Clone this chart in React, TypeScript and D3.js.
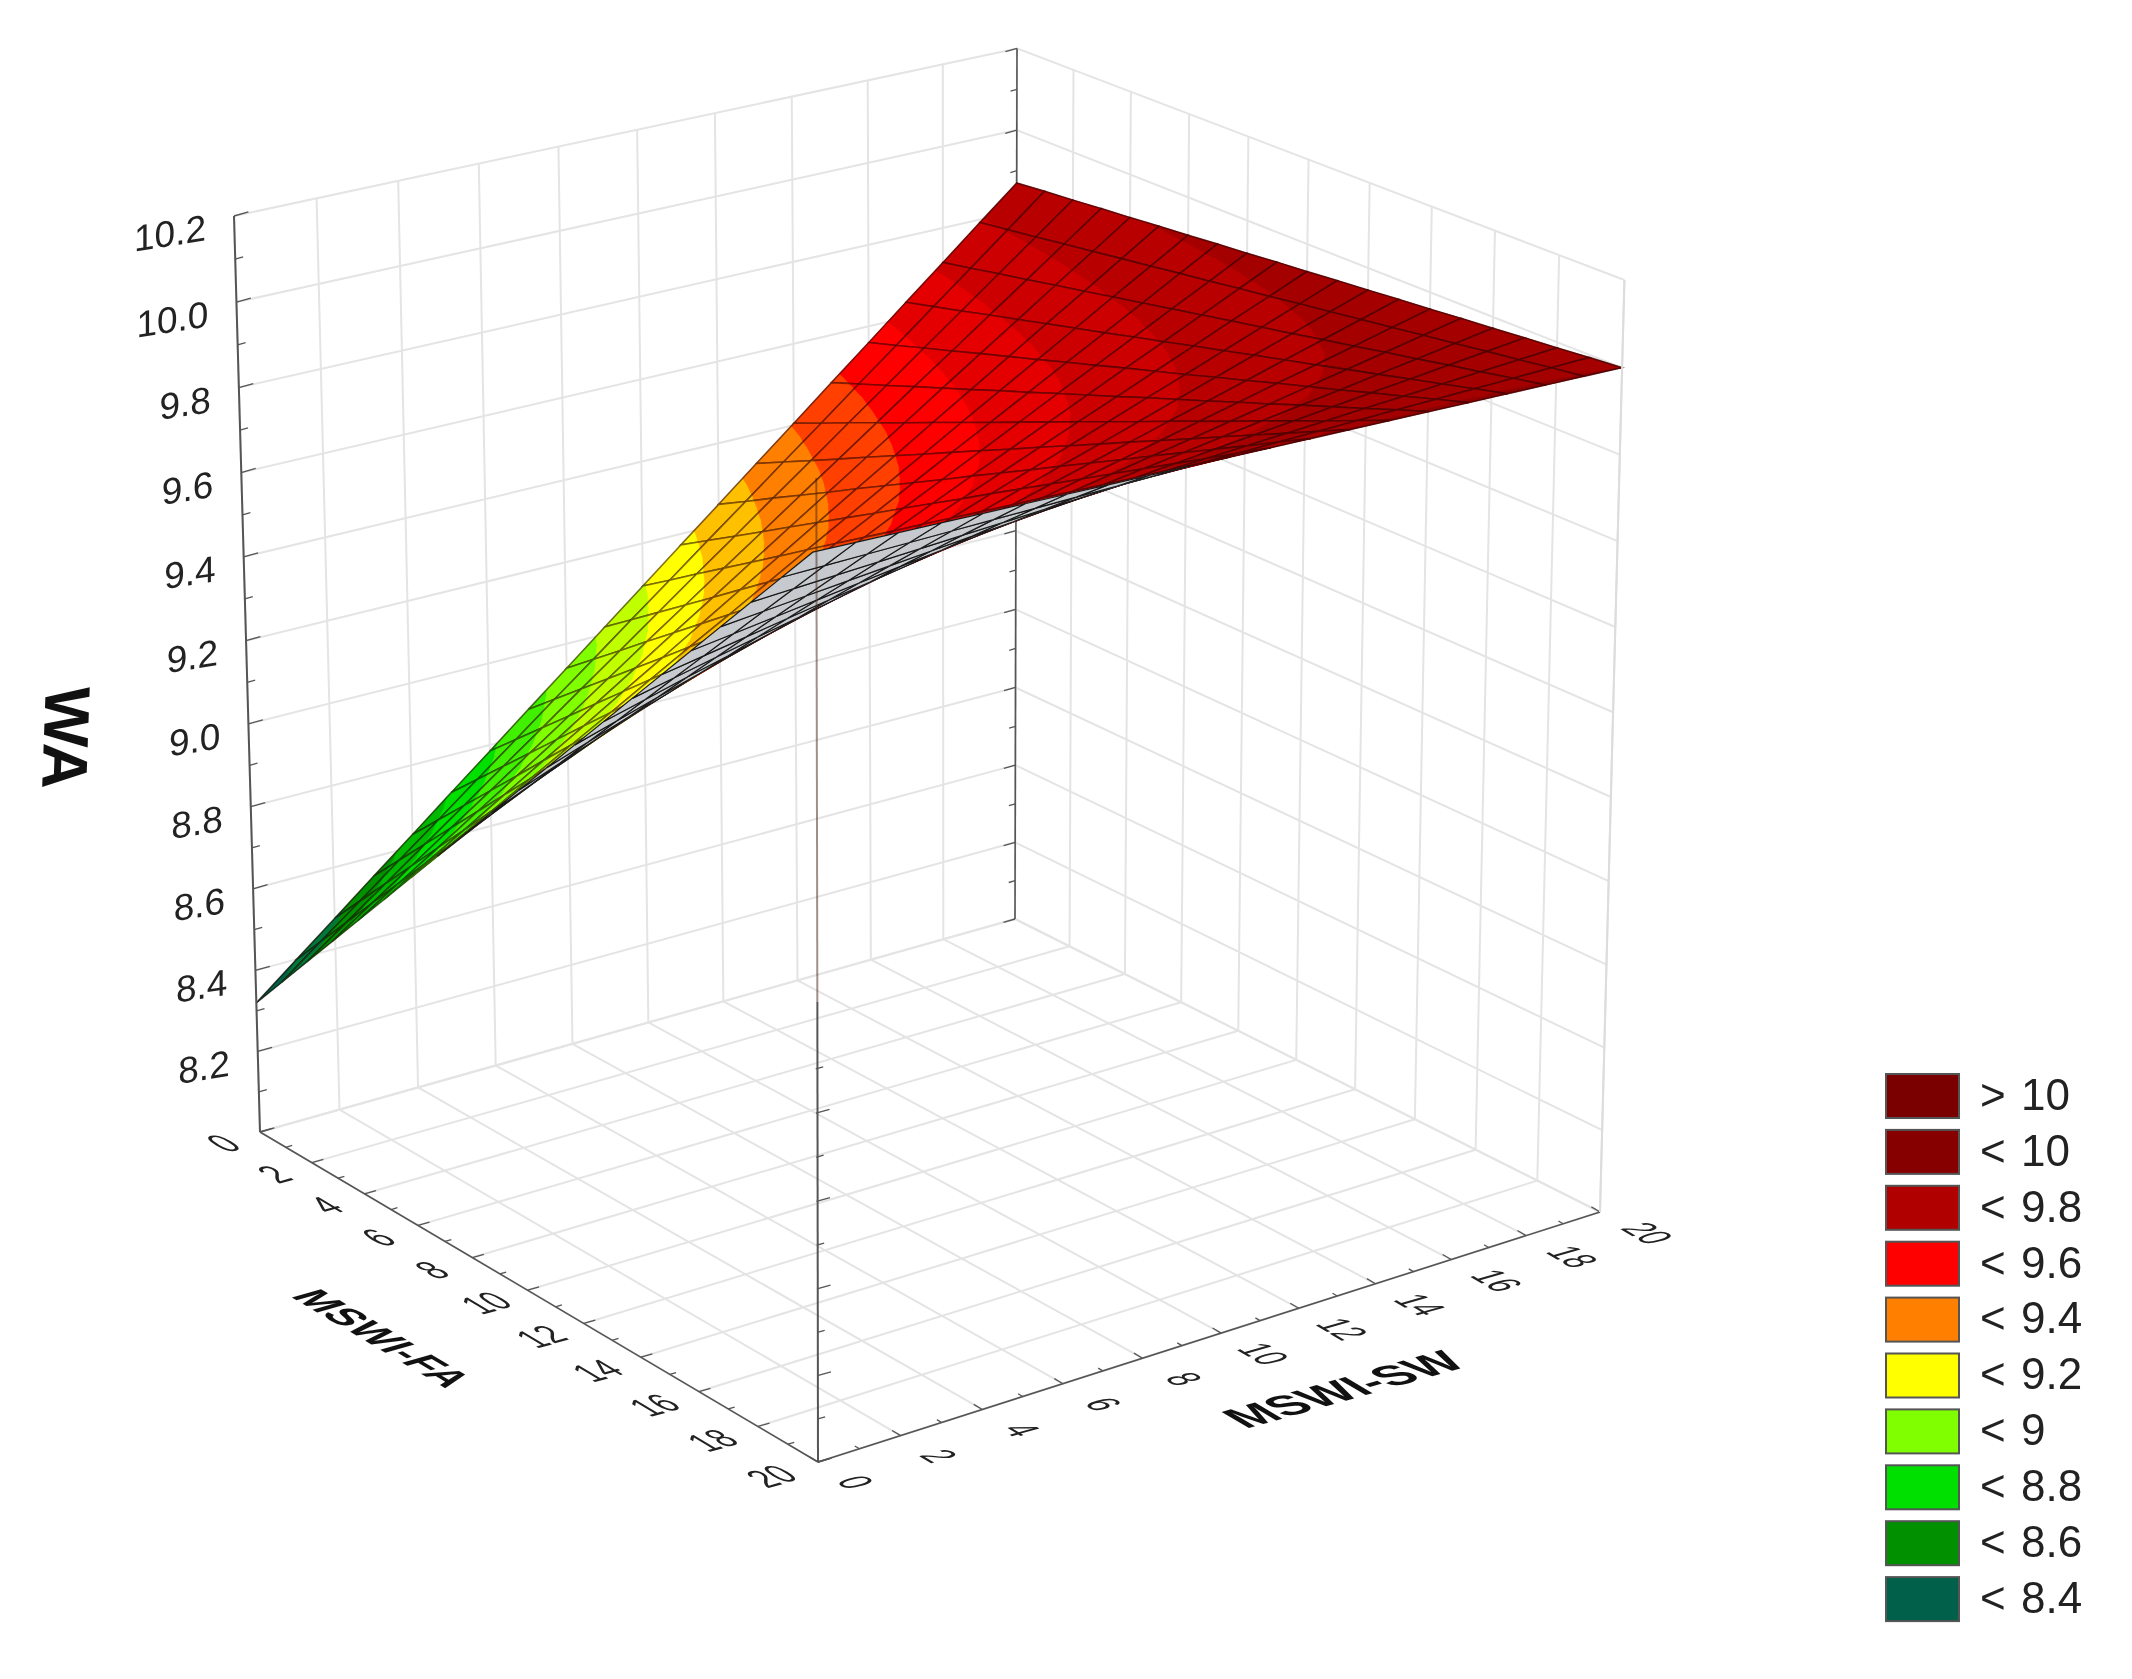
import React from "react";
import * as d3 from "d3";

const faTicks = [0,2,4,6,8,10,12,14,16,18,20];
const swTicks = [0,2,4,6,8,10,12,14,16,18,20];
const waTicks = [8.2,8.4,8.6,8.8,9.0,9.2,9.4,9.6,9.8,10.0,10.2];
const legendLabels = ["> 10","< 10","< 9.8","< 9.6","< 9.4","< 9.2","< 9","< 8.8","< 8.6","< 8.4"];
const legendColors = ["#7a0000","#870000","#b00000","#ff0000","#ff8000","#ffff00","#80ff00","#00e000","#009000","#00604a"];
const bandLevels = [8.4,8.5,8.6,8.7,8.8,8.9,9.0,9.1,9.2,9.3,9.4,9.5,9.6,9.7,9.8,9.9,10];
const bandColors = ["#00604a","#007838","#009000","#00b800","#00e000","#40f000","#80ff00","#c0ff00","#ffff00","#ffc000","#ff8000","#ff4000","#ff0000","#e40000","#cc0000","#b80000","#a40000","#8f0000"];

// WA read from the surface: one row per MSWI-FA value (0..20), one column per MSWI-SW value (0..20)
const waFa0 =  [8.320,8.398,8.475,8.553,8.630,8.708,8.785,8.863,8.940,9.018,9.095,9.173,9.250,9.328,9.405,9.483,9.560,9.638,9.715,9.793,9.870];
const waFa1 =  [8.406,8.480,8.553,8.627,8.700,8.774,8.847,8.921,8.994,9.068,9.141,9.215,9.288,9.362,9.435,9.509,9.582,9.656,9.729,9.803,9.877];
const waFa2 =  [8.492,8.562,8.631,8.701,8.770,8.840,8.909,8.979,9.048,9.118,9.188,9.257,9.327,9.396,9.466,9.535,9.605,9.674,9.744,9.813,9.883];
const waFa3 =  [8.578,8.644,8.709,8.775,8.840,8.906,8.971,9.037,9.103,9.168,9.234,9.299,9.365,9.430,9.496,9.562,9.627,9.693,9.758,9.824,9.890];
const waFa4 =  [8.664,8.726,8.787,8.849,8.910,8.972,9.034,9.095,9.157,9.218,9.280,9.342,9.403,9.465,9.526,9.588,9.650,9.711,9.773,9.834,9.896];
const waFa5 =  [8.750,8.808,8.865,8.923,8.981,9.038,9.096,9.153,9.211,9.269,9.326,9.384,9.442,9.499,9.557,9.614,9.672,9.730,9.787,9.845,9.903];
const waFa6 =  [8.836,8.890,8.943,8.997,9.051,9.104,9.158,9.212,9.265,9.319,9.373,9.426,9.480,9.533,9.587,9.641,9.694,9.748,9.802,9.855,9.909];
const waFa7 =  [8.922,8.972,9.021,9.071,9.121,9.170,9.220,9.270,9.319,9.369,9.419,9.468,9.518,9.568,9.617,9.667,9.717,9.766,9.816,9.866,9.916];
const waFa8 =  [9.008,9.054,9.099,9.145,9.191,9.237,9.282,9.328,9.374,9.419,9.465,9.511,9.556,9.602,9.648,9.694,9.739,9.785,9.831,9.876,9.922];
const waFa9 =  [9.094,9.136,9.177,9.219,9.261,9.303,9.344,9.386,9.428,9.470,9.511,9.553,9.595,9.636,9.678,9.720,9.762,9.803,9.845,9.887,9.929];
const waFa10 = [9.180,9.218,9.256,9.293,9.331,9.369,9.407,9.444,9.482,9.520,9.558,9.595,9.633,9.671,9.709,9.746,9.784,9.822,9.860,9.897,9.935];
const waFa11 = [9.266,9.300,9.334,9.367,9.401,9.435,9.469,9.502,9.536,9.570,9.604,9.638,9.671,9.705,9.739,9.773,9.806,9.840,9.874,9.908,9.942];
const waFa12 = [9.352,9.382,9.412,9.441,9.471,9.501,9.531,9.561,9.590,9.620,9.650,9.680,9.710,9.739,9.769,9.799,9.829,9.859,9.888,9.918,9.948];
const waFa13 = [9.438,9.464,9.490,9.515,9.541,9.567,9.593,9.619,9.645,9.670,9.696,9.722,9.748,9.774,9.800,9.825,9.851,9.877,9.903,9.929,9.955];
const waFa14 = [9.524,9.546,9.568,9.590,9.611,9.633,9.655,9.677,9.699,9.721,9.743,9.764,9.786,9.808,9.830,9.852,9.874,9.895,9.917,9.939,9.961];
const waFa15 = [9.610,9.628,9.646,9.664,9.682,9.699,9.717,9.735,9.753,9.771,9.789,9.807,9.825,9.842,9.860,9.878,9.896,9.914,9.932,9.950,9.968];
const waFa16 = [9.696,9.710,9.724,9.738,9.752,9.766,9.779,9.793,9.807,9.821,9.835,9.849,9.863,9.877,9.891,9.905,9.918,9.932,9.946,9.960,9.974];
const waFa17 = [9.782,9.792,9.802,9.812,9.822,9.832,9.842,9.851,9.861,9.871,9.881,9.891,9.901,9.911,9.921,9.931,9.941,9.951,9.961,9.971,9.981];
const waFa18 = [9.868,9.874,9.880,9.886,9.892,9.898,9.904,9.910,9.916,9.922,9.928,9.933,9.939,9.945,9.951,9.957,9.963,9.969,9.975,9.981,9.987];
const waFa19 = [9.954,9.956,9.958,9.960,9.962,9.964,9.966,9.968,9.970,9.972,9.974,9.976,9.978,9.980,9.982,9.984,9.986,9.988,9.990,9.992,9.994];
const waFa20 = [10.040,10.038,10.036,10.034,10.032,10.030,10.028,10.026,10.024,10.022,10.020,10.018,10.016,10.014,10.012,10.010,10.008,10.006,10.004,10.002,10.000];
const waRows = [waFa0,waFa1,waFa2,waFa3,waFa4,waFa5,waFa6,waFa7,waFa8,waFa9,waFa10,waFa11,waFa12,waFa13,waFa14,waFa15,waFa16,waFa17,waFa18,waFa19,waFa20];

const L=[260,1132],F=[818,1462],R=[1600,1212],B=[1015,919],LT=[234,216],BT=[1017,48];
const dx1=F[0]-R[0],dy1=F[1]-R[1],dx2=B[0]-R[0],dy2=B[1]-R[1];
const sx=L[0]-F[0]+R[0]-B[0],sy=L[1]-F[1]+R[1]-B[1];
const det=dx1*dy2-dx2*dy1;
const g=(sx*dy2-dx2*sy)/det,h=(dx1*sy-sx*dy1)/det;
const a=F[0]-L[0]+g*F[0],b=B[0]-L[0]+h*B[0],c=L[0];
const d=F[1]-L[1]+g*F[1],e=B[1]-L[1]+h*B[1],f=L[1];
const r=(b-BT[0]*(1+h)+LT[0])/(BT[0]-LT[0]);
const p=LT[0]*(1+r)-c,q=LT[1]*(1+r)-f;

const uS=d3.scaleLinear().domain([0,20]).range([0,1]);
const vS=d3.scaleLinear().domain([0,20]).range([0,1]);
const wS=d3.scaleLinear().domain([8,10.2]).range([0,1]);
function proj(fa:number,sw:number,wa:number){
  const u=uS(fa),v=vS(sw),w=wS(wa);
  const D=1+g*u+h*v+r*w;
  return [(a*u+b*v+c+p*w)/D,(d*u+e*v+f+q*w)/D,D];
}
const line=d3.line();
const seg=(A:number[],B2:number[])=>line([[A[0],A[1]],[B2[0],B2[1]]]) as string;
const bandColor=d3.scaleThreshold<number,string>().domain(bandLevels).range(bandColors);

type V=[number,number,number];
function clip(poly:V[],lo:number,hi:number){
  const cut=(pts:V[],inside:(z:number)=>boolean,lim:number)=>{
    const out:V[]=[];
    pts.forEach((P,i)=>{
      const Q=pts[(i+1)%pts.length];
      const pi=inside(P[2]),qi=inside(Q[2]);
      if(pi)out.push(P);
      if(pi!==qi){const t=(lim-P[2])/(Q[2]-P[2]);out.push([P[0]+t*(Q[0]-P[0]),P[1]+t*(Q[1]-P[1]),lim]);}
    });
    return out;
  };
  let o=cut(poly,z=>z>=lo,lo);
  if(o.length)o=cut(o,z=>z<=hi,hi);
  return o;
}
const cells:any[]=[];
d3.range(20).forEach(i=>d3.range(20).forEach(j=>{
  const cs=[[i,j],[i+1,j],[i+1,j+1],[i,j+1]].map(([m,n])=>{const z=waRows[m][n];const P=proj(m,n,z);return {x:P[0],y:P[1],z,D:P[2]};});
  const area=d3.polygonArea(cs.map(k=>[k.x,k.y] as [number,number]));
  const cx=d3.mean(cs,k=>k.x) as number;
  cells.push({i,j,cs,top:area>0||cx<470,zm:d3.mean(cs,k=>k.z),D:d3.mean(cs,k=>k.D)});
}));
cells.sort((A,B2)=>B2.D-A.D);

const edges=[...bandLevels,99];
function CellView({cell}:{cell:any}){
  const pts:[number,number][]=cell.cs.map((k:any)=>[k.x,k.y]);
  const fills:React.ReactNode[]=[];
  if(cell.top){
    const base=bandColor(cell.zm);
    fills.push(<path key="base" d={line(pts)+"Z"} fill={base} stroke={base} strokeWidth={0.6}/>);
    const vs:V[]=cell.cs.map((k:any)=>[k.x,k.y,k.z]);
    const tris=[[vs[0],vs[1],vs[2]],[vs[0],vs[2],vs[3]]];
    tris.forEach((t,ti)=>edges.forEach((hi,ei)=>{
      const lo=ei===0?0:edges[ei-1];
      const o=clip(t as V[],lo,hi);
      if(o.length>2){const dd=line(o.map(k=>[k[0],k[1]]) as [number,number][])+"Z";
        fills.push(<path key={ti+"-"+ei} d={dd} fill={bandColors[ei]} stroke={bandColors[ei]} strokeWidth={0.6}/>);}
    }));
  } else {
    fills.push(<path key="g" d={line(pts)+"Z"} fill="#c6cace" stroke="#c6cace" strokeWidth={0.5}/>);
  }
  return <g>{fills}<path d={line(pts)+"Z"} fill="none" stroke={cell.top?"#200000":"#000"} strokeOpacity={cell.top?0.55:0.85} strokeWidth={cell.top?1.6:1.2}/></g>;
}

const GRID="#e4e4e4";
const AX="#555";
const tickLen=(v:number,major:boolean)=>major?v:v*0.55;

export default function App(){
  const wa0=8,wa1=10.2;
  const minorZ=d3.range(0,23).map(k=>8+k*0.1);
  const minorX=d3.range(0,21);
  const vDir=[0.962,-0.271],uDir=[0.86,0.51];
  const frontSplit=proj(20,0,9.05);
  const frontTop=proj(20,0,wa1),frontBot=proj(20,0,wa0);
  return (
  <svg width={2132} height={1679} style={{position:"absolute",left:0,top:0,background:"#fff",fontFamily:"'Liberation Sans',Arial,sans-serif",filter:"blur(0.7px)"}}>
    <g fill="none" stroke={GRID} strokeWidth={2}>
      {faTicks.map(t=><path key={"fv"+t} d={seg(proj(t,20,wa0),proj(t,20,wa1))}/>)}
      {swTicks.map(t=><path key={"sv"+t} d={seg(proj(0,t,wa0),proj(0,t,wa1))}/>)}
      {[8,...waTicks].map(t=><path key={"zl"+t} d={seg(proj(0,0,t),proj(0,20,t))}/>)}
      {[8,...waTicks].map(t=><path key={"zr"+t} d={seg(proj(0,20,t),proj(20,20,t))}/>)}
      {faTicks.map(t=><path key={"ff"+t} d={seg(proj(t,0,wa0),proj(t,20,wa0))}/>)}
      {swTicks.map(t=><path key={"fs"+t} d={seg(proj(0,t,wa0),proj(20,t,wa0))}/>)}
    </g>
    <path d={seg(proj(0,20,wa0),proj(0,20,wa1))} stroke={AX} strokeWidth={1.6}/>
    {minorZ.map((t,k)=>{const P=proj(0,20,t);const l=tickLen(12,k%2===0);return <path key={"bt"+k} d={seg(P,[P[0]-vDir[0]*l,P[1]-vDir[1]*l])} stroke={AX} strokeWidth={1.3}/>;})}
    {cells.map(cl=><CellView key={cl.i+"_"+cl.j} cell={cl}/>)}
    <path d={seg(proj(0,0,wa0),proj(0,0,wa1))} stroke={AX} strokeWidth={2}/>
    {minorZ.map((t,k)=>{const P=proj(0,0,t);const l=tickLen(15,k%2===0);return <path key={"lt"+k} d={seg(P,[P[0]+vDir[0]*l,P[1]+vDir[1]*l])} stroke={AX} strokeWidth={1.3}/>;})}
    <path d={seg([frontTop[0]+4,frontTop[1]],[frontSplit[0]+2,frontSplit[1]])} stroke="#402010" strokeOpacity={0.5} strokeWidth={2}/>
    <path d={seg([frontSplit[0]+2,frontSplit[1]],frontBot)} stroke={AX} strokeWidth={2}/>
    {minorZ.filter(t=>t<9.0).map((t,k)=>{const P=proj(20,0,t);const l=tickLen(14,k%2===0);return <path key={"ft"+k} d={seg(P,[P[0]+vDir[0]*l,P[1]+vDir[1]*l])} stroke={AX} strokeWidth={1.3}/>;})}
    <path d={seg(proj(0,0,wa0),proj(20,0,wa0))} stroke={AX} strokeWidth={1.6}/>
    <path d={seg(proj(20,0,wa0),proj(20,20,wa0))} stroke={AX} strokeWidth={1.6}/>
    {minorX.map(t=>{const P=proj(t,0,wa0);const l=tickLen(12,t%2===0);return <path key={"fa"+t} d={seg(P,[P[0]+vDir[0]*l,P[1]+vDir[1]*l])} stroke={AX} strokeWidth={1.3}/>;})}
    {minorX.map(t=>{const P=proj(20,t,wa0);const l=tickLen(10,t%2===0);return <path key={"sw"+t} d={seg(P,[P[0]-uDir[0]*l,P[1]-uDir[1]*l])} stroke={AX} strokeWidth={1.3}/>;})}
    <path d={seg(proj(20,20,wa0),proj(20,20,wa1))} stroke="#dcdcdc" strokeWidth={2}/>
    {waTicks.map(t=>{const P=proj(0,0,t);return <text key={"wl"+t} transform={`translate(${P[0]-28},${P[1]+11}) skewY(-9)`} textAnchor="end" dy="0.36em" fontSize={37} fill="#222">{t.toFixed(1)}</text>;})}
    {faTicks.map(t=>{const P=proj(t,0,wa0);const ox=-37-10*t/20,oy=11+3*t/20;const sxx=0.88,syy=1.15;
      return <text key={"fl"+t} transform={`matrix(${vDir[0]*sxx},${vDir[1]*sxx},${uDir[0]*syy},${uDir[1]*syy},${P[0]+ox},${P[1]+oy})`} textAnchor="middle" dy="0.36em" fontSize={36} fill="#222">{t}</text>;})}
    {swTicks.map(t=>{const P=proj(20,t,wa0);const ox=38+10*t/20,oy=20+t/20;const sxx=0.84,syy=1.15;
      return <text key={"sl"+t} transform={`matrix(${uDir[0]*sxx},${uDir[1]*sxx},${-vDir[0]*syy},${-vDir[1]*syy},${P[0]+ox},${P[1]+oy})`} textAnchor="middle" dy="0.36em" fontSize={36} fill="#222">{t}</text>;})}
    <text transform="translate(67,738) rotate(92)" textAnchor="middle" dy="0.36em" fontSize={64} fontWeight="bold" fill="#111">WA</text>
    <text transform={`matrix(${uDir[0]*1.05},${uDir[1]*1.05},${-vDir[0]*1.1},${-vDir[1]*1.1},383,1338)`} textAnchor="middle" dy="0.36em" fontSize={40} fontWeight="bold" fill="#111">MSWI-FA</text>
    <text transform={`matrix(${vDir[0]*1.13},${vDir[1]*1.13},${uDir[0]*1.05},${uDir[1]*1.05},1343,1389)`} textAnchor="middle" dy="0.36em" fontSize={44} fontWeight="bold" fill="#111">MSWI-SW</text>
    {legendLabels.map((t,k)=>{const y=1073+k*55.9;const parts=t.split(" ");return <g key={t}>
      <rect x={1886} y={y+1} width={73} height={44} fill={legendColors[k]} stroke="#555" strokeWidth={2}/>
      <text x={1980} y={y+21} dy="0.36em" fontSize={44} fill="#222">{parts[0]}</text>
      <text x={2021} y={y+21} dy="0.36em" fontSize={44} fill="#222">{parts[1]}</text>
    </g>;})}
  </svg>);
}
